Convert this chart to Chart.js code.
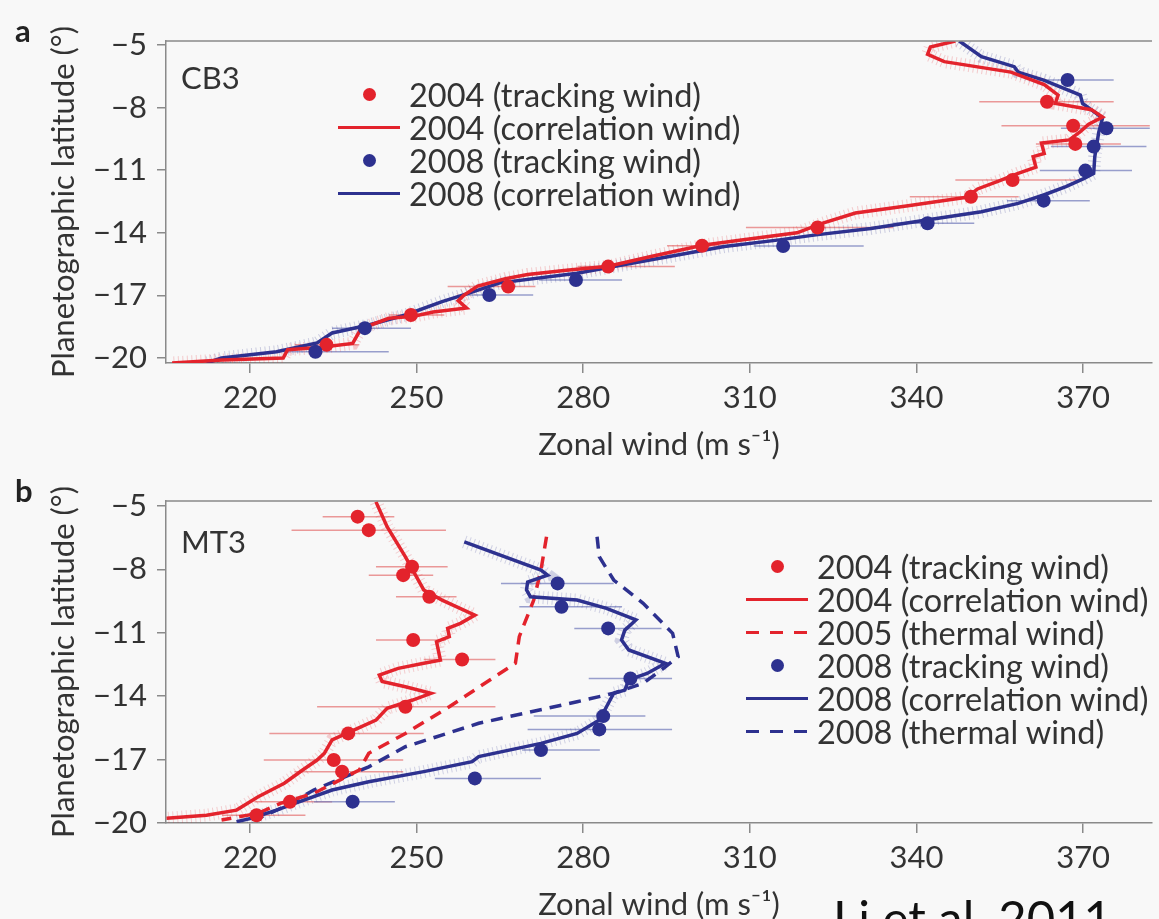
<!DOCTYPE html>
<html>
<head>
<meta charset="utf-8">
<script src="https://cdn.jsdelivr.net/npm/chart.js@4.4.1/dist/chart.umd.min.js"></script>
<style>
  html, body { margin: 0; padding: 0; background: #f8f8f8; width: 1159px; height: 919px; overflow: hidden; font-family: Lato, sans-serif; color: #333; }
  .panel { position: absolute; left: 0; width: 1159px; height: 464px; }
  #panelA { top: 0; }
  #panelB { top: 460px; }
  .tag { position: absolute; font-weight: bold; font-size: 31px; line-height: 1; color: #222; }
  .name { position: absolute; font-size: 31px; line-height: 1; color: #333; }
  .legend { position: absolute; font-size: 32.5px; color: #333; }
  .legend .row { display: flex; align-items: center; height: 33px; line-height: 33px; white-space: nowrap; }
  .legend .sym { width: 62px; height: 33px; position: relative; margin-right: 9px; }
  .sym.dot::after { content: ''; position: absolute; left: 25px; top: 10px; width: 13px; height: 13px; border-radius: 50%; background: var(--c); }
  .sym.line::after { content: ''; position: absolute; left: 0; right: 0; top: 15px; height: 3px; background: var(--c); }
  .sym.dash::after { content: ''; position: absolute; left: 0; right: 0; top: 15px; height: 3px;
    background: repeating-linear-gradient(to right, var(--c) 0 13px, transparent 13px 24px); }
  #cite { position: absolute; left: 833px; top: 893px; font-size: 49px; line-height: 1; color: #111; font-family: Lato, sans-serif; }
</style>
</head>
<body>
<div class="panel" id="panelA"><canvas id="chartA"></canvas></div>
<div class="panel" id="panelB"><canvas id="chartB"></canvas></div>

<div class="tag" style="left:15px; top:15px;">a</div>
<div class="tag" style="left:15px; top:475px;">b</div>
<div class="name" style="left:181px; top:62px;">CB3</div>
<div class="name" style="left:181px; top:526px;">MT3</div>

<div class="legend" style="left:338px; top:78px;">
  <div class="row"><span class="sym dot" style="--c:#e3232c"></span>2004 (tracking wind)</div>
  <div class="row"><span class="sym line" style="--c:#e3232c"></span>2004 (correlation wind)</div>
  <div class="row"><span class="sym dot" style="--c:#2d318f"></span>2008 (tracking wind)</div>
  <div class="row"><span class="sym line" style="--c:#2d318f"></span>2008 (correlation wind)</div>
</div>

<div class="legend" style="left:746px; top:550px;">
  <div class="row"><span class="sym dot" style="--c:#e3232c"></span>2004 (tracking wind)</div>
  <div class="row"><span class="sym line" style="--c:#e3232c"></span>2004 (correlation wind)</div>
  <div class="row"><span class="sym dash" style="--c:#e3232c"></span>2005 (thermal wind)</div>
  <div class="row"><span class="sym dot" style="--c:#2d318f"></span>2008 (tracking wind)</div>
  <div class="row"><span class="sym line" style="--c:#2d318f"></span>2008 (correlation wind)</div>
  <div class="row"><span class="sym dash" style="--c:#2d318f"></span>2008 (thermal wind)</div>
</div>

<div id="cite">Li et al. 2011</div>

<script>
// Zonal wind profiles vs planetographic latitude, CB3 (a) and MT3 (b)

const RED = '#e3232c';
const BLUE = '#2d318f';

const xTicks = [220, 250, 280, 310, 340, 370];
const yTicks = [-5, -8, -11, -14, -17, -20];

// ---- Panel a: CB3 ----
const cb3Corr04Lat  = [-4.81, -5.1, -5.45, -5.8, -6.05, -6.3, -6.9, -7.4, -7.8, -8.1, -8.45, -8.8, -9.15, -9.55, -9.7, -10.2, -10.35, -10.85, -11.15, -11.5, -11.9, -12.3, -12.45, -12.7, -13.05, -13.55, -14.0, -14.35, -14.6, -15.15, -15.6, -15.8, -16.0, -16.2, -16.55, -17.0, -17.25, -17.6, -17.8, -18.0, -18.1, -18.6, -19.3, -19.5, -19.6, -20.0, -20.1, -20.24];
const cb3Corr04Wind = [347, 342.5, 342, 345, 351, 357, 363, 365.5, 365, 371.5, 373.5, 371, 369.5, 367.5, 362.5, 363, 361, 361.5, 358.3, 355, 351, 349, 345, 338.5, 329, 323, 318.5, 308.5, 301.5, 292, 284.5, 277, 270, 266, 261, 258.5, 257.5, 259, 253, 249.5, 245, 240, 238.5, 232.5, 226.8, 226, 215, 206];

const cb3Corr08Lat  = [-4.81, -5.56, -6.04, -6.3, -6.68, -7.4, -7.8, -8.11, -8.5, -9.2, -10.35, -11.15, -11.39, -11.79, -12.19, -12.59, -12.99, -13.39, -13.79, -14.1, -14.34, -14.66, -15.14, -15.62, -15.94, -16.4, -16.9, -17.3, -17.94, -18.42, -18.8, -19.28, -19.7, -20.0, -20.24];
const cb3Corr08Wind = [347.7, 351.7, 357.6, 358.3, 362.9, 369.5, 369.9, 371.5, 373.5, 372.8, 372.1, 371.9, 370.2, 366.9, 362.9, 358.3, 351.7, 341.8, 331.8, 321.9, 315.3, 305.4, 295.5, 285.5, 278.9, 265, 259.3, 254.6, 248, 241.4, 234.8, 232.1, 224.8, 214.9, 212.2];

const cb3Track04Lat  = [-7.72, -8.87, -9.74, -11.47, -12.27, -13.75, -14.62, -15.62, -16.58, -17.94, -19.37];
const cb3Track04Wind = [363.5, 368.2, 368.6, 357.3, 349.8, 322.2, 301.4, 284.5, 266.5, 249.0, 233.8];
const cb3Track04Lo   = [351.3, 355.3, 361.5, 347.0, 338.8, 309.3, 295.1, 279.0, 255.6, 245.0, 228.1];
const cb3Track04Hi   = [375.5, 382.0, 376.8, 370.0, 358.4, 335.8, 308.0, 296.5, 271.4, 255.0, 239.7];

const cb3Track08Lat  = [-6.68, -8.99, -9.87, -11.02, -12.46, -13.54, -14.63, -16.26, -16.98, -18.57, -19.7];
const cb3Track08Wind = [367.2, 374.2, 371.9, 370.4, 362.9, 342.0, 316.0, 278.7, 263.1, 240.7, 231.8];
const cb3Track08Lo   = [361.6, 366.0, 364.2, 362.2, 356.3, 335.8, 310.7, 272.0, 257.9, 234.8, 226.2];
const cb3Track08Hi   = [375.5, 382.0, 381.4, 378.8, 371.2, 350.4, 330.5, 287.0, 271.0, 249.0, 245.0];

// ---- Panel b: MT3 ----
const mt3Corr04Lat  = [-4.8, -5.98, -7.4, -8.97, -9.45, -10.16, -10.55, -10.79, -11.18, -11.42, -12.29, -12.44, -12.68, -13.0, -13.3, -13.55, -13.86, -14.18, -14.57, -15.13, -15.6, -16.07, -16.7, -17.02, -17.49, -18.12, -18.76, -19.39, -19.63, -19.78];
const mt3Corr04Wind = [242.7, 244.7, 248, 251.3, 254.6, 260.5, 257.9, 255.6, 255.9, 253.6, 254.3, 251.3, 246.7, 243.3, 243.8, 248, 252.6, 249.3, 244.7, 242.7, 238.7, 234.8, 233.4, 232.1, 229.5, 226.2, 221.5, 217.6, 212.2, 205];

const mt3Therm05Lat  = [-6.45, -8.03, -9.45, -11.18, -12.44, -13.23, -14.5, -15.76, -16.7, -17.49, -18.6, -19.07, -19.54, -19.86];
const mt3Therm05Wind = [273.4, 272.4, 271.1, 268.5, 267.8, 263.2, 255.9, 248, 241.4, 239.7, 231.5, 225.5, 221.5, 214.9];

const mt3Corr08Lat  = [-6.69, -8.03, -8.27, -8.6, -8.97, -9.29, -9.45, -9.84, -10.39, -10.87, -11.34, -11.81, -12.44, -12.92, -13.23, -13.71, -13.86, -14.5, -15.13, -15.76, -16.23, -16.86, -17.1, -17.57, -18.05, -18.44, -19.07, -19.39, -19.78, -19.94];
const mt3Corr08Wind = [258.6, 272.4, 273.6, 270, 269.8, 270.5, 278.9, 284.2, 289.5, 287.5, 286.9, 288.2, 294.8, 291.5, 288.2, 287.5, 285.5, 284.2, 282.9, 278.9, 272.4, 261.2, 260, 251.3, 241.4, 234.8, 228.1, 224.8, 220.2, 217.6];

const mt3Therm08Lat  = [-6.45, -7.4, -8.5, -9.6, -11.02, -12.13, -12.61, -13.39, -13.86, -14.26, -15.28, -16.39, -17.34, -18.44, -19.23, -19.78];
const mt3Therm08Wind = [282.5, 282.9, 285.5, 290.8, 296.1, 297.1, 294.8, 290.8, 285.5, 278.9, 261.2, 248, 241.4, 231.5, 226.2, 221.5];

const mt3Track04Lat  = [-5.5, -6.14, -7.87, -8.27, -9.29, -11.34, -12.26, -14.5, -15.76, -17.02, -17.57, -19.0, -19.63];
const mt3Track04Wind = [239.4, 241.4, 249.2, 247.6, 252.3, 249.4, 258.2, 248.0, 237.7, 235.1, 236.6, 227.2, 221.2];
const mt3Track04Lo   = [233.1, 227.5, 242.7, 241.4, 246.3, 242.7, 251.3, 232.1, 223.5, 222.5, 228.0, 220.8, 215.0];
const mt3Track04Hi   = [246.0, 255.3, 255.6, 253.0, 257.2, 255.3, 264.2, 264.2, 251.3, 247.6, 247.6, 234.8, 230.0];

const mt3Track08Lat  = [-8.66, -9.77, -10.79, -13.16, -14.94, -15.57, -16.55, -17.89, -18.99];
const mt3Track08Wind = [275.4, 276.1, 284.5, 288.5, 283.6, 282.9, 272.4, 260.5, 238.5];
const mt3Track08Lo   = [265.2, 268.5, 278.4, 281.0, 271.1, 270.0, 269.0, 253.3, 231.5];
const mt3Track08Hi   = [285.5, 287.0, 294.1, 296.0, 291.2, 296.0, 283.0, 272.4, 246.1];

Chart.defaults.font.family = 'Lato, sans-serif';
Chart.defaults.color = '#333';

function toPts(winds, lats) {
  return winds.map((w, i) => ({ x: w, y: lats[i] }));
}

// error bars + top frame line
const panelExtras = {
  id: 'panelExtras',
  beforeDatasetsDraw(chart) {
    const { ctx, chartArea: a, scales: { x, y } } = chart;
    ctx.save();
    ctx.beginPath();
    ctx.rect(a.left, a.top, a.right - a.left, a.bottom - a.top);
    ctx.clip();
    chart.data.datasets.forEach(ds => {
      if (!ds.errLo) return;
      ctx.strokeStyle = ds.errColor;
      ctx.lineWidth = 1.5;
      ds.data.forEach((p, i) => {
        const py = y.getPixelForValue(p.y);
        ctx.beginPath();
        ctx.moveTo(x.getPixelForValue(ds.errLo[i]), py);
        ctx.lineTo(x.getPixelForValue(ds.errHi[i]), py);
        ctx.stroke();
      });
    });
    ctx.restore();
  },
  afterDraw(chart) {
    const { ctx, chartArea: a } = chart;
    ctx.save();
    ctx.strokeStyle = '#8a8a8a';
    ctx.lineWidth = 1.5;
    ctx.beginPath();
    ctx.moveTo(a.left, a.top);
    ctx.lineTo(a.right, a.top);
    ctx.stroke();
    ctx.restore();
  }
};

function trackSet(winds, lats, lo, hi, color, errColor) {
  return {
    data: toPts(winds, lats), showLine: false, pointRadius: 7, pointHoverRadius: 7,
    backgroundColor: color, borderWidth: 0, errLo: lo, errHi: hi, errColor: errColor
  };
}
function lineSet(winds, lats, color, dash) {
  return {
    data: toPts(winds, lats), showLine: true, pointRadius: 0, borderColor: color,
    borderWidth: 3.5, borderDash: dash || [], tension: 0
  };
}
// uncertainty hatching around the correlation-wind profiles
function hatchSet(winds, lats, color) {
  return {
    data: toPts(winds, lats), showLine: true, pointRadius: 0, borderColor: color,
    borderWidth: 13, borderDash: [1, 3.5], tension: 0
  };
}

function makeOptions(yMin, yMax) {
  const axisColor = '#8a8a8a';
  return {
    responsive: true,
    maintainAspectRatio: false,
    animation: false,
    layout: { padding: { top: 41, left: 0, right: 0, bottom: 0 } },
    plugins: { legend: { display: false }, tooltip: { enabled: false } },
    scales: {
      x: {
        type: 'linear', min: 204.9, max: 382.4,
        afterBuildTicks: s => { s.ticks = xTicks.map(v => ({ value: v })); },
        afterFit: s => { s.height = 101; },
        ticks: { font: { size: 31 }, color: '#333', padding: 6, maxRotation: 0 },
        grid: { display: true, drawOnChartArea: false, drawTicks: true, tickLength: 10, color: axisColor, lineWidth: 1.5 },
        border: { display: true, color: axisColor, width: 1.5 },
        title: { display: true, text: 'Zonal wind (m s\u207B\u00B9)', font: { size: 31 }, color: '#333', padding: { top: 0, bottom: 0 } }
      },
      y: {
        type: 'linear', min: yMin, max: yMax,
        afterBuildTicks: s => { s.ticks = yTicks.map(v => ({ value: v })); },
        afterFit: s => { s.width = 166; },
        ticks: { font: { size: 31 }, color: '#333', padding: 10, callback: v => String(v).replace('-', '\u2212') },
        grid: { display: true, drawOnChartArea: false, drawTicks: true, tickLength: 9, color: axisColor, lineWidth: 1.5 },
        border: { display: true, color: axisColor, width: 1.5 },
        title: { display: true, text: 'Planetographic latitude (\u00B0)', font: { size: 31 }, color: '#333', padding: { top: 45, bottom: 0 } }
      }
    }
  };
}

// Panel a
new Chart(document.getElementById('chartA'), {
  type: 'scatter',
  data: {
    datasets: [
      trackSet(cb3Track08Wind, cb3Track08Lat, cb3Track08Lo, cb3Track08Hi, BLUE, 'rgba(120,128,190,0.75)'),
      trackSet(cb3Track04Wind, cb3Track04Lat, cb3Track04Lo, cb3Track04Hi, RED, 'rgba(230,120,120,0.75)'),
      lineSet(cb3Corr04Wind, cb3Corr04Lat, RED),
      lineSet(cb3Corr08Wind, cb3Corr08Lat, BLUE),
      hatchSet(cb3Corr04Wind, cb3Corr04Lat, 'rgba(227,35,44,0.22)'),
      hatchSet(cb3Corr08Wind, cb3Corr08Lat, 'rgba(45,49,143,0.22)')
    ]
  },
  options: makeOptions(-20.24, -4.81),
  plugins: [panelExtras]
});

// Panel b
new Chart(document.getElementById('chartB'), {
  type: 'scatter',
  data: {
    datasets: [
      trackSet(mt3Track04Wind, mt3Track04Lat, mt3Track04Lo, mt3Track04Hi, RED, 'rgba(230,120,120,0.75)'),
      trackSet(mt3Track08Wind, mt3Track08Lat, mt3Track08Lo, mt3Track08Hi, BLUE, 'rgba(120,128,190,0.75)'),
      lineSet(mt3Corr04Wind, mt3Corr04Lat, RED),
      lineSet(mt3Corr08Wind, mt3Corr08Lat, BLUE),
      lineSet(mt3Therm05Wind, mt3Therm05Lat, RED, [12, 8]),
      lineSet(mt3Therm08Wind, mt3Therm08Lat, BLUE, [12, 8]),
      hatchSet(mt3Corr04Wind, mt3Corr04Lat, 'rgba(227,35,44,0.2)'),
      hatchSet(mt3Corr08Wind, mt3Corr08Lat, 'rgba(45,49,143,0.2)')
    ]
  },
  options: makeOptions(-20.0, -4.76),
  plugins: [panelExtras]
});
</script>
</body>
</html>
